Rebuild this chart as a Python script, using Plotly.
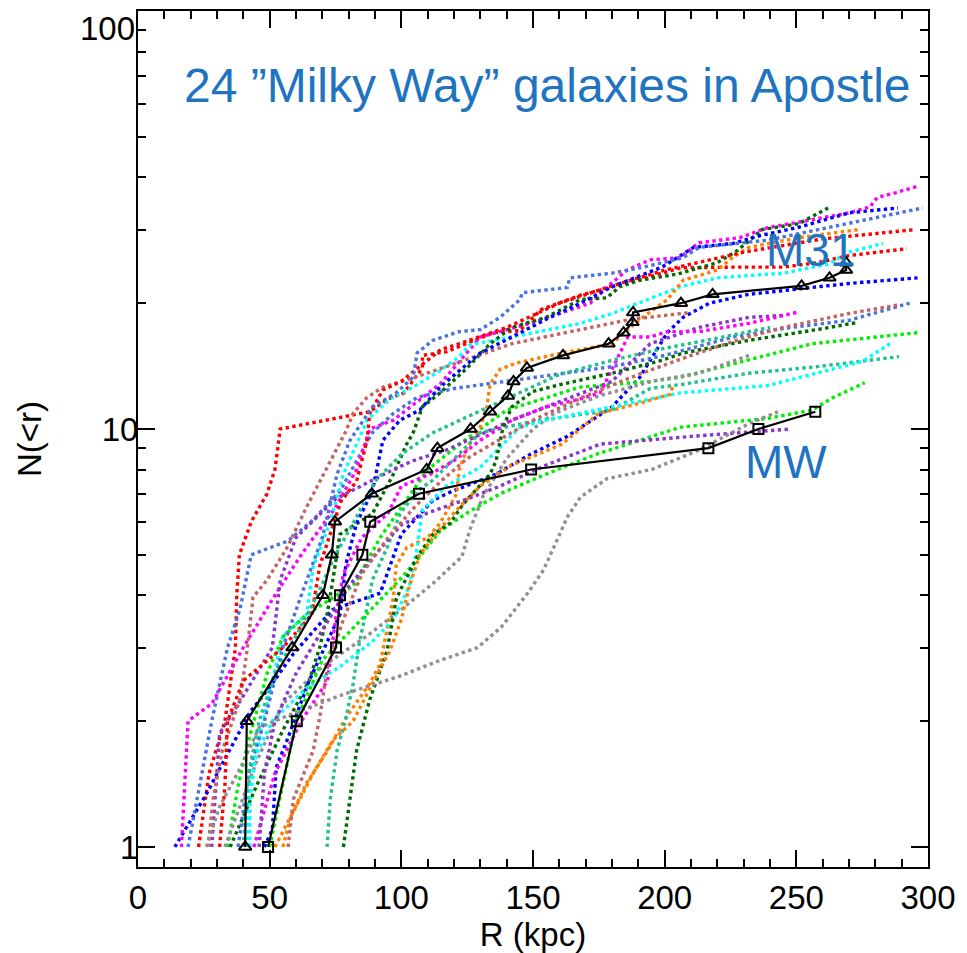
import plotly.graph_objects as go

# ---------------- data (radius in kpc, cumulative number N(<r)) ----------------
RED_A_R = [23, 27, 33, 37, 37.5, 38.5, 43, 49, 52, 54, 88, 95, 101, 108, 108, 117, 135, 145, 153, 168, 183, 206, 226, 245, 258, 270, 292]
RED_A_N = [1, 1.5, 2, 3, 4, 5, 6, 7, 8, 10, 11, 11.8, 12.2, 14, 15, 15.3, 17, 17.2, 19.3, 20.9, 22.1, 24.3, 24.4, 24.4, 25, 26, 27]
RED_B_R = [31, 33, 34, 40, 55, 66, 69, 77, 83, 87, 88, 93, 100, 115, 122, 140, 160, 180, 200, 230, 260, 295]
RED_B_N = [1, 1.4, 2, 2.5, 3, 3.6, 4.7, 6.7, 7.5, 9.4, 10.9, 12.4, 13, 15.5, 16, 17.5, 20, 22, 24, 26.5, 28.5, 30]
ROYAL_A_R = [19, 28, 34, 38.7, 43, 57, 66.5, 76.7, 81.7, 89, 97, 106, 120, 140, 160, 180, 200, 226, 245, 270, 293]
ROYAL_A_N = [1, 2, 3, 3.7, 5, 5.4, 6.06, 7.1, 8.1, 9.8, 10.9, 11.9, 12.5, 13, 13.5, 14.1, 15, 16.6, 17.4, 18.2, 20]
ROYAL_B_R = [38, 42, 48, 55, 62, 70, 75.6, 80.5, 89, 98, 104.5, 106, 112, 122, 130, 137.5, 145, 146, 163, 164, 180, 192, 207, 213, 239, 258, 270, 298]
ROYAL_B_N = [1, 1.5, 2, 3, 4, 5.5, 7.8, 9.4, 11.3, 12.2, 13.3, 15.2, 16.3, 17.1, 17.3, 18.5, 20.4, 21.2, 21.8, 23, 23.6, 24.4, 25.7, 27.2, 28.3, 30, 31.1, 33.8]
BLUE_A_R = [14, 20, 26, 32, 42.5, 51, 59, 68, 74, 92, 100, 107, 112, 118.5, 136, 149, 163, 180, 190.6, 194.5, 201, 207, 217, 232, 251, 270, 296]
BLUE_A_N = [1, 1.16, 1.34, 1.58, 2.1, 2.46, 2.9, 3.36, 3.7, 4.05, 5.6, 6.25, 6.75, 7.06, 7.8, 8.7, 9.6, 11.3, 13.3, 14.6, 17, 18.5, 20, 21, 21.6, 22.3, 23]
BLUE_B_R = [48, 51, 52.5, 56.6, 65, 76.7, 79, 83, 89, 93, 99.5, 107, 114.7, 130, 142, 155, 168, 180, 199, 211, 226, 236, 251, 270, 288.6]
BLUE_B_N = [1, 1.1, 1.55, 1.8, 2.5, 3.6, 4.76, 5.95, 7.1, 9.4, 10.5, 11.1, 12.6, 15.2, 16.6, 18.3, 20, 21.9, 24.4, 27.2, 27.8, 29, 30.4, 32.9, 33.8]
MAGENTA_A_R = [16.5, 19, 28, 40, 52, 62, 75, 83, 88, 97, 105, 114.7, 130, 150, 171.7, 179, 185.7, 194.5, 205.8, 213, 228.6, 239, 255, 270, 278, 280.7, 288, 296]
MAGENTA_A_N = [1, 2, 2.2, 3, 4, 5, 6.5, 8, 10, 10.5, 11.5, 12.8, 16.6, 18, 20, 22.1, 24, 25.4, 25.7, 27.9, 28.7, 30.3, 31.6, 32.9, 34, 35.8, 36.8, 38.1]
MAGENTA_B_R = [44, 52, 62, 72, 75, 78, 85, 95, 100, 111, 120, 130, 142, 155, 168, 175.5, 180, 183, 186, 194.5, 201, 213, 232, 250]
MAGENTA_B_N = [1, 1.5, 2, 2.5, 3.5, 4.5, 5.5, 6.3, 7.3, 7.8, 8.4, 9.4, 10.5, 11.3, 11.8, 12.2, 13.9, 15.2, 16.6, 16.6, 17.1, 17.1, 17.9, 19]
CYAN_A_R = [42.5, 42.5, 45, 49, 55, 64, 66.5, 73, 78, 87, 95.7, 104.5, 114.7, 122, 126, 142, 168, 180, 190.6, 206, 220, 245, 262, 270, 283]
CYAN_A_N = [1, 1.3, 1.7, 2.2, 3.2, 3.6, 4.67, 6, 7.8, 10.5, 11.8, 12.6, 13.8, 14.9, 15.9, 16.6, 17.9, 18.9, 20.1, 21.9, 23, 23.6, 24.8, 26.5, 27.8]
CYAN_B_R = [41.6, 42.5, 45, 51, 64, 76.7, 89, 97, 103, 106, 108, 117, 130, 145, 155, 180, 206, 239, 264, 275, 285.6]
CYAN_B_N = [1, 1.4, 1.67, 2, 2.4, 2.7, 3.1, 3.5, 4.2, 5.2, 6.4, 7.3, 8.1, 10.1, 10.5, 11.3, 12.2, 12.7, 13.9, 14.5, 16]
ORANGE_A_R = [55, 58, 64, 72, 79, 88, 92, 94.6, 97, 98, 102, 110, 114.7, 121, 122, 125, 130, 132.5, 133.7, 137.5, 144, 161, 180, 190.6, 201, 207, 220, 226, 232, 251, 273.5]
ORANGE_A_N = [1, 1.18, 1.42, 1.7, 2.04, 2.46, 2.75, 3.3, 3.96, 4.7, 5.2, 5.5, 5.95, 7, 8, 9, 10.1, 11.3, 12.8, 13.9, 14.4, 15.2, 16, 18.3, 20.4, 22.7, 24, 25.8, 27.2, 28.7, 30]
ORANGE_B_R = [52, 60, 66.5, 74, 81.7, 89, 95.7, 100, 103, 107, 115, 122, 130, 142, 161, 175, 190, 202, 203]
ORANGE_B_N = [1, 1.25, 1.5, 1.8, 2, 2.46, 2.95, 3.5, 4.2, 5, 5.8, 6.5, 7.3, 8.2, 9.2, 10.9, 11.5, 12.1, 12.6]
DKGREEN_A_R = [35, 45, 55, 65, 69, 71.8, 74, 76.7, 89, 97, 102, 104.5, 108, 114.7, 125, 133.7, 142, 155, 168, 178, 183, 190.6, 205, 220, 227.5, 237, 251, 262.8]
DKGREEN_A_N = [1, 1.4, 1.9, 2.5, 3, 3.6, 4.35, 5.6, 6.27, 7.8, 9.2, 9.8, 11.3, 12.2, 14, 16, 17.5, 18.5, 20.4, 20.6, 21.9, 22.7, 23.5, 25, 26.7, 30, 31, 34]
DKGREEN_B_R = [78, 80.5, 83, 88, 94.6, 98, 99.5, 106, 112, 118.5, 123.4, 133.7, 136, 138.6, 142, 150, 161, 180, 199, 207, 232, 258, 273.5]
DKGREEN_B_N = [1, 1.3, 1.7, 2.25, 2.95, 3.9, 4.1, 4.95, 5.6, 5.95, 6.6, 7.8, 8.4, 10.1, 11.3, 12.3, 12.8, 13.6, 14.6, 15.2, 16.3, 17.3, 18]
PURPLE_A_R = [28, 30, 31, 40, 51, 54, 60, 75, 90, 97, 104.5, 117, 142, 155, 180, 194.5, 213, 232, 245]
PURPLE_A_N = [1, 1.55, 1.87, 2.3, 3, 4.35, 5.5, 6.8, 7.6, 8, 8.4, 8.9, 10.5, 11.3, 13, 16, 17.5, 18.5, 18.7]
PURPLE_B_R = [46, 48, 52, 60, 70, 80, 90, 100, 110, 125, 137.5, 155, 175.5, 210, 248]
PURPLE_B_N = [1, 1.5, 2, 2.6, 3.3, 4.2, 5, 5.9, 6.3, 6.8, 7.3, 8.2, 9.2, 9.6, 10]
LIME_A_R = [34, 38, 42, 49, 55, 64, 76.7, 81.7, 92, 100, 110, 125, 140, 168, 194.5, 206, 220, 256, 296]
LIME_A_N = [1, 1.4, 1.8, 2.6, 3.18, 3.6, 4.05, 4.2, 5.5, 6.5, 8, 9.5, 11.1, 12.6, 13, 13.3, 14, 16, 17]
LIME_B_R = [50, 55, 60, 70, 85, 100, 107, 114.7, 125, 137.5, 155, 174, 206, 239, 256, 264, 276]
LIME_B_N = [1, 1.4, 2, 2.8, 3.5, 4.4, 4.95, 5.7, 6.3, 7, 7.8, 8.7, 10.1, 10.6, 11.1, 11.9, 12.9]
TEAL_A_R = [71.8, 73, 75.6, 79, 81.7, 84, 87, 89, 94.6, 99.5, 106, 112, 130, 149, 180, 194.5, 207, 232, 258, 289]
TEAL_A_N = [1, 1.3, 1.7, 2.04, 2.46, 3.07, 3.75, 4.35, 5.2, 6.27, 7.1, 7.55, 9.8, 10.4, 11.1, 12.5, 12.8, 13.6, 14.1, 14.9]
TEAL_B_R = [40, 42, 46, 52, 60, 68, 75, 82, 90, 100, 112, 125, 140, 160, 180, 200, 220, 240]
TEAL_B_N = [1, 1.5, 2, 2.6, 3.2, 4, 5, 6, 7.5, 8.7, 9.8, 10.7, 11.8, 13.5, 14.6, 15.6, 16.5, 17.5]
INDRED_A_R = [26.6, 28.5, 32, 38.7, 41.4, 43.7, 49, 56.6, 64, 72, 79, 81.7, 87, 93, 102, 117, 142, 187, 206, 210]
INDRED_A_N = [1, 1.3, 1.7, 2.25, 2.95, 3.96, 4.35, 5.2, 6.5, 8.1, 9.9, 10.9, 11.9, 12.6, 13.1, 14.1, 16, 18.3, 18.9, 19]
INDRED_B_R = [57, 59, 66.5, 69, 72, 78, 85, 95, 105, 115, 125, 138, 150, 170, 190, 210, 230, 245, 270, 288.6]
INDRED_B_N = [1, 1.3, 1.7, 2.04, 2.7, 3.5, 4.5, 5.5, 6.5, 7.5, 8.5, 9.5, 10.5, 12, 13.5, 15, 16.5, 17.5, 18.9, 19.8]
GRAY_A_R = [33, 45, 55, 70, 87, 100, 112, 123, 126, 131, 140, 150, 158, 175, 195, 213, 232]
GRAY_A_N = [1, 1.6, 2.2, 2.7, 3.2, 3.7, 4.27, 4.95, 5.73, 6.9, 8.5, 10, 10.9, 12, 13, 13.6, 15]
GRAY_B_R = [26, 31, 39, 46, 60, 79, 100, 115, 129, 138, 148, 154, 159, 163, 168, 178, 195, 213, 232, 243]
GRAY_B_N = [1, 1.25, 1.55, 1.93, 2.1, 2.33, 2.57, 2.8, 3, 3.36, 4.05, 4.6, 5.4, 6.15, 6.87, 7.6, 8, 8.9, 10.3, 11]

M31_R = [40.7, 41.3, 58.6, 70.2, 73.6, 74.8, 88.8, 109.6, 113.7, 126.3, 133.7, 140.5, 142.6, 147.7, 161.4,
         178.7, 184.4, 187.8, 188.0, 206.2, 218.2, 252.0, 262.6, 268.9, 268.9]
M31_N = list(range(1, 26))
MW_R = [49.4, 60.3, 75.2, 76.7, 85.2, 88.2, 106.7, 149.3, 216.6, 235.6, 257.2]
MW_N = list(range(1, 12))

X_TICKS = [0, 50, 100, 150, 200, 250, 300]
Y_TICKS = [1, 10, 100]
Y_TICK_TEXT = ["1", "10", ""]   # "100" is placed as a text label below (nudged inside the page)
TOP_Y_LABEL = "100"

# ---------------- styling ----------------
RED = "#ff0000"; BLUE = "#0000ff"; ROYAL = "#4a72e0"; MAGENTA = "#ff00ff"; CYAN = "#00ffff"
LIME = "#00ee00"; DKGREEN = "#006a00"; ORANGE = "#ff8000"; PURPLE = "#8a36c8"; INDRED = "#c46464"
GRAY = "#909090"; TEAL = "#20c090"
TEXT_BLUE = "#1f74bf"

sims = [
    (RED_A_R, RED_A_N, RED), (BLUE_A_R, BLUE_A_N, BLUE), (ROYAL_A_R, ROYAL_A_N, ROYAL),
    (MAGENTA_A_R, MAGENTA_A_N, MAGENTA), (CYAN_A_R, CYAN_A_N, CYAN), (LIME_A_R, LIME_A_N, LIME),
    (DKGREEN_A_R, DKGREEN_A_N, DKGREEN), (ORANGE_A_R, ORANGE_A_N, ORANGE), (PURPLE_A_R, PURPLE_A_N, PURPLE),
    (INDRED_A_R, INDRED_A_N, INDRED), (GRAY_A_R, GRAY_A_N, GRAY), (TEAL_A_R, TEAL_A_N, TEAL),
    (RED_B_R, RED_B_N, RED), (BLUE_B_R, BLUE_B_N, BLUE), (ROYAL_B_R, ROYAL_B_N, ROYAL),
    (MAGENTA_B_R, MAGENTA_B_N, MAGENTA), (CYAN_B_R, CYAN_B_N, CYAN), (LIME_B_R, LIME_B_N, LIME),
    (DKGREEN_B_R, DKGREEN_B_N, DKGREEN), (ORANGE_B_R, ORANGE_B_N, ORANGE), (PURPLE_B_R, PURPLE_B_N, PURPLE),
    (INDRED_B_R, INDRED_B_N, INDRED), (GRAY_B_R, GRAY_B_N, GRAY), (TEAL_B_R, TEAL_B_N, TEAL),
]

fig = go.Figure()
for r, n, c in sims:
    fig.add_trace(go.Scatter(x=r, y=n, mode="lines",
                             line=dict(color=c, width=3.4, dash="dot"), hoverinfo="skip"))

fig.add_trace(go.Scatter(x=M31_R, y=M31_N, mode="lines+markers",
                         line=dict(color="black", width=2.2),
                         marker=dict(symbol="triangle-up-open", size=11, color="black",
                                     line=dict(color="black", width=2))))
fig.add_trace(go.Scatter(x=MW_R, y=MW_N, mode="lines+markers",
                         line=dict(color="black", width=2.2),
                         marker=dict(symbol="square-open", size=10, color="black",
                                     line=dict(color="black", width=2))))

FONT = "Liberation Sans, Arial, Helvetica, sans-serif"

axis_common = dict(
    showline=True, linecolor="black", linewidth=2, mirror="ticks",
    ticks="inside", ticklen=17, tickwidth=2, tickcolor="black",
    showgrid=False, zeroline=False, automargin=False, ticklabeloverflow="allow",
    tickfont=dict(family=FONT, size=33, color="black"),
)

fig.update_xaxes(range=[0, 300], tickvals=X_TICKS,
                 minor=dict(dtick=10, ticks="inside", ticklen=8, tickwidth=2, tickcolor="black", showgrid=False),
                 title=dict(text="R (kpc)", font=dict(family=FONT, size=33, color="black"), standoff=4),
                 **axis_common)
fig.update_yaxes(type="log", range=[-0.048, 2.0002], tickvals=Y_TICKS, ticktext=Y_TICK_TEXT,
                 minor=dict(tickvals=[2, 3, 4, 5, 6, 7, 8, 9, 20, 30, 40, 50, 60, 70, 80, 90],
                            ticks="inside", ticklen=8, tickwidth=2, tickcolor="black", showgrid=False),
                 title=dict(text="N(<r)", font=dict(family=FONT, size=33, color="black"), standoff=50),
                 **axis_common)

# pull the tick labels a little closer to the axes (as in the original figure)
try:
    fig.update_yaxes(ticklabelstandoff=-9)
    fig.update_xaxes(ticklabelstandoff=0)
except Exception:
    pass

# the "100" label (top-left), kept fully inside the page
fig.add_annotation(xref="paper", yref="paper", x=0.0, y=1.0, xanchor="right", yanchor="top",
                   xshift=-1, yshift=3, text=TOP_Y_LABEL, showarrow=False,
                   font=dict(family=FONT, size=33, color="black"))

fig.add_annotation(xref="paper", yref="paper", x=0.056, y=0.913, xanchor="left", yanchor="middle",
                   text="24 \u201dMilky Way\u201d galaxies in Apostle", showarrow=False,
                   font=dict(family=FONT, size=48, color=TEXT_BLUE))
fig.add_annotation(xref="paper", yref="paper", x=0.792, y=0.721, xanchor="left", yanchor="middle",
                   text="M31", showarrow=False, font=dict(family=FONT, size=46, color=TEXT_BLUE))
fig.add_annotation(xref="paper", yref="paper", x=0.766, y=0.473, xanchor="left", yanchor="middle",
                   text="MW", showarrow=False, font=dict(family=FONT, size=46, color=TEXT_BLUE))

# the page body has an 8px margin, so the figure is 8px smaller than the window on each axis
fig.update_layout(width=959, height=945, margin=dict(l=130, r=39, t=3, b=86, autoexpand=False),
                  plot_bgcolor="white", paper_bgcolor="white", showlegend=False,
                  font=dict(family=FONT, size=33, color="black"))

fig.write_html("out.html")
